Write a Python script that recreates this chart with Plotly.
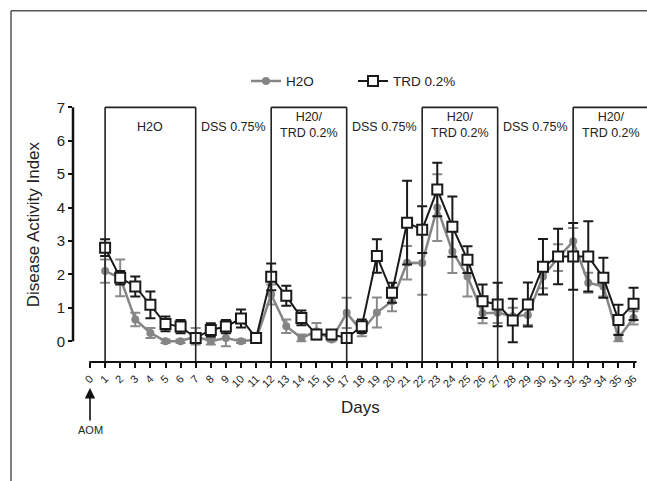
import plotly.graph_objects as go

# ---------------- data ----------------
days = list(range(1, 37))
tick_days = list(range(0, 37))
h2o = [2.1, 1.9, 0.65, 0.25, 0.0, 0.0, 0.15, 0.0, 0.1, 0.0, 0.05, 1.4,
       0.45, 0.1, 0.3, 0.05, 0.85, 0.3, 0.86, 1.2, 2.35, 2.34, 4.0, 2.69,
       1.94, 0.84, 0.85, 0.75, 0.79, 1.94, 2.5, 2.99, 1.75, 1.64, 0.1, 0.7]
h2o_err = [0.35, 0.55, 0.2, 0.15, 0.05, 0.05, 0.25, 0.1, 0.25, 0.05, 0.05, 0.3,
           0.2, 0.1, 0.25, 0.05, 0.45, 0.15, 0.45, 0.3, 0.5, 0.95, 1.0, 0.65,
           0.6, 0.3, 0.3, 0.25, 0.3, 0.35, 0.4, 0.4, 0.3, 0.3, 0.1, 0.2]
trd = [2.8, 1.9, 1.64, 1.09, 0.52, 0.44, 0.1, 0.34, 0.44, 0.68, 0.1, 1.93,
       1.36, 0.7, 0.2, 0.2, 0.1, 0.45, 2.55, 1.45, 3.55, 3.34, 4.54, 3.43,
       2.44, 1.2, 1.1, 0.62, 1.1, 2.23, 2.54, 2.54, 2.54, 1.9, 0.64, 1.12]
trd_err = [0.25, 0.2, 0.3, 0.4, 0.22, 0.2, 0.1, 0.2, 0.2, 0.27, 0.05, 0.4,
           0.3, 0.22, 0.08, 0.08, 0.08, 0.2, 0.5, 0.3, 1.25, 0.7, 0.8, 0.9,
           0.4, 0.5, 0.65, 0.65, 0.66, 0.83, 0.83, 1.0, 1.05, 0.6, 0.45, 0.48]

# treatment periods (start day, end day or None = open to the right)
period_bounds = [1, 7, 12, 17, 22, 27, 32]
boxed = [(1, 7), (12, 17), (22, 27), (32, None)]
period_labels = ["H2O", "DSS 0.75%", "H20/<br>TRD 0.2%", "DSS 0.75%",
                 "H20/<br>TRD 0.2%", "DSS 0.75%", "H20/<br>TRD 0.2%"]
period_centers = [4, 9.5, 14.5, 19.5, 24.5, 29.5, 34.5]

W, H = 647, 481
ML, MR, MT, MB = 73, 0, 104.2, 119
XR = [-1.126, 36.89]
YR = [-0.62, 7.1]
FONT = "Liberation Sans, Arial, sans-serif"
plot_w = W - ML - MR
plot_h = H - MT - MB


def px_to_paper_x(px):
    return (px - ML) / plot_w


def px_to_paper_y(py):
    return (H - MB - py) / plot_h


fig = go.Figure()

fig.add_trace(go.Scatter(
    x=days, y=h2o, name="H2O", mode="lines+markers",
    line=dict(color="#858585", width=2.5),
    marker=dict(symbol="circle", size=8, color="#858585"),
    error_y=dict(type="data", array=h2o_err, visible=True,
                 color="#8a8a8a", thickness=2, width=5),
))
fig.add_trace(go.Scatter(
    x=days, y=trd, name="TRD 0.2%", mode="lines+markers",
    line=dict(color="#1a1a1a", width=2),
    marker=dict(symbol="square", size=10, color="white",
                line=dict(color="#1a1a1a", width=2)),
    error_y=dict(type="data", array=trd_err, visible=True,
                 color="#1a1a1a", thickness=2, width=5),
))

shapes = []
# period boundaries
for d in period_bounds:
    shapes.append(dict(type="line", xref="x", yref="y", x0=d, x1=d,
                       y0=YR[0], y1=7, line=dict(color="#222", width=1.6)))
for a, b in boxed:
    shapes.append(dict(type="line", xref="x", yref="y", x0=a,
                       x1=XR[1] if b is None else b,
                       y0=7, y1=7, line=dict(color="#222", width=1.6)))
# y axis line (0..7)
shapes.append(dict(type="line", xref="paper", yref="y", x0=0, x1=0,
                   y0=0, y1=7, line=dict(color="#111", width=2.5)))
# x axis line
shapes.append(dict(type="line", xref="x", yref="paper", x0=-0.05, x1=36.2,
                   y0=0, y1=0, line=dict(color="#111", width=2)))
# outer frame (top and left)
fx = px_to_paper_x(11)
fy = px_to_paper_y(11)
shapes.append(dict(type="line", xref="paper", yref="paper", x0=fx, x1=px_to_paper_x(W + 5),
                   y0=fy, y1=fy, line=dict(color="#555", width=1.5)))
shapes.append(dict(type="line", xref="paper", yref="paper", x0=fx, x1=fx,
                   y0=fy, y1=px_to_paper_y(H + 5), line=dict(color="#555", width=1.5)))

annotations = []
for lab, c in zip(period_labels, period_centers):
    two = "<br>" in lab
    annotations.append(dict(x=c, y=7, xref="x", yref="y", text=lab,
                            showarrow=False, yanchor="top",
                            yshift=-1 if two else -11,
                            font=dict(family=FONT, size=12.5, color="#222")))
annotations.append(dict(x=0.5, y=0, xref="paper", yref="paper", text="Days",
                        showarrow=False, yanchor="middle", yshift=-45,
                        font=dict(family=FONT, size=17, color="#222")))
annotations.append(dict(x=0, y=3.5, xref="paper", yref="y",
                        text="Disease Activity Index", textangle=-90,
                        showarrow=False, xanchor="center", xshift=-40,
                        font=dict(family=FONT, size=17, color="#222")))
annotations.append(dict(x=px_to_paper_x(90), y=px_to_paper_y(388),
                        xref="paper", yref="paper",
                        text="AOM", showarrow=True, ax=0, ay=42,
                        arrowhead=2, arrowsize=1.3, arrowwidth=1.6,
                        arrowcolor="#111", borderpad=3,
                        font=dict(family=FONT, size=11, color="#222")))

fig.update_layout(
    width=W, height=H,
    margin=dict(l=ML, r=MR, t=MT, b=MB, pad=0),
    paper_bgcolor="white", plot_bgcolor="white",
    font=dict(family=FONT, color="#222"),
    showlegend=True,
    legend=dict(orientation="h", x=px_to_paper_x(246), y=px_to_paper_y(66),
                xanchor="left", yanchor="top", entrywidth=62,
                entrywidthmode="pixels",
                font=dict(family=FONT, size=13.5, color="#222"),
                bgcolor="rgba(0,0,0,0)"),
    xaxis=dict(range=XR, tickmode="array", tickvals=tick_days,
               ticktext=[str(d) for d in tick_days], tickangle=-45,
               ticks="outside", ticklen=5, tickwidth=1.6, tickcolor="#111",
               showline=False, zeroline=False, showgrid=False,
               tickfont=dict(family=FONT, size=11, color="#222")),
    yaxis=dict(range=YR, tickmode="array", tickvals=list(range(0, 8)),
               ticks="outside", ticklen=4, tickwidth=2, tickcolor="#111",
               showline=False, zeroline=False, showgrid=False,
               tickfont=dict(family=FONT, size=15, color="#222")),
    shapes=shapes,
    annotations=annotations,
)

fig.write_html("out.html", config={"displayModeBar": False},
               post_script="document.body.style.margin='0';document.body.style.overflow='hidden';")
